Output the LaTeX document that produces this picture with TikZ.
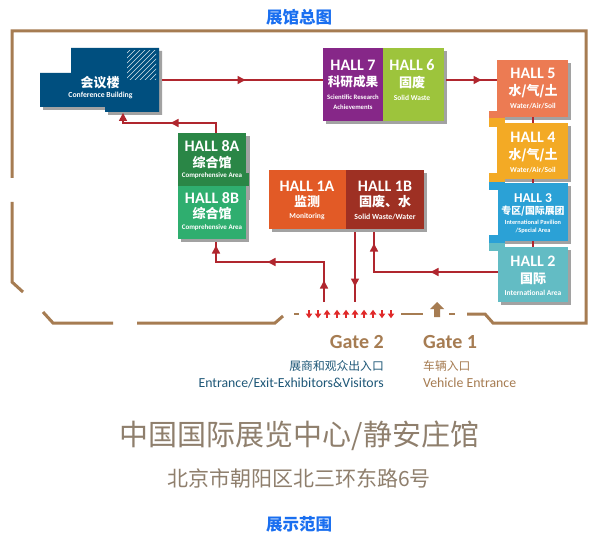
\documentclass[tikz,border=0pt]{standalone}
\usepackage{fontspec}
\setmainfont{Carlito}
\newfontfamily\cjk{Noto Sans CJK SC}
\definecolor{frameC}{HTML}{A67C52}
\definecolor{linkC}{HTML}{B0262E}
\definecolor{gateC}{HTML}{E02A2A}
\definecolor{shadowC}{HTML}{A2A2A2}
\definecolor{blueT}{HTML}{1A6FF0}
\definecolor{navyT}{HTML}{1F5878}
\definecolor{greyT}{HTML}{8F7F6D}
\definecolor{confC}{HTML}{004F7F}
\definecolor{a8C}{HTML}{2A8646}
\definecolor{b8C}{HTML}{2FAE6F}
\definecolor{h7C}{HTML}{862788}
\definecolor{h6C}{HTML}{9DC43C}
\definecolor{h5C}{HTML}{EC7B53}
\definecolor{h4C}{HTML}{F3AA25}
\definecolor{h3C}{HTML}{2BA1D6}
\definecolor{h2C}{HTML}{63BCC4}
\definecolor{aoneC}{HTML}{E25A26}
\definecolor{boneC}{HTML}{9E3023}
\tikzset{
  x=1pt,y=-1pt,
  wall/.style={draw=frameC,line width=3pt,line join=miter},
  link/.style={draw=linkC,line width=2.4pt},
  hallbox/.style={inner sep=0pt,outer sep=0pt},
  lab/.style={inner sep=0pt,text=white,font=\bfseries\fontsize{16}{16}\selectfont},
  cn/.style={inner sep=0pt,text=white,font=\cjk\bfseries\fontsize{13}{13}\selectfont},
  en/.style={inner sep=0pt,text=white,font=\bfseries\fontsize{7.5}{7.5}\selectfont},
  title/.style={inner sep=0pt,text=blueT,font=\cjk\bfseries\fontsize{16.5}{16.5}\selectfont},
}
\newcommand{\hallrect}[6]{%
  \fill[shadowC] ({#2+3},{#3+3}) rectangle ({#4+3},{#5+3});
  \node[hallbox,fill=#6,minimum width={(#4-#2)*1pt},minimum height={(#5-#3)*1pt}] (#1) at ({(#2+#4)/2},{(#3+#5)/2}) {};
}
\newcommand{\hallflat}[6]{%
  \node[hallbox,fill=#6,minimum width={(#4-#2)*1pt},minimum height={(#5-#3)*1pt}] (#1) at ({(#2+#4)/2},{(#3+#5)/2}) {};
}
\newcommand{\hd}[3]{\fill[linkC,shift={(#1,#2)},rotate=#3] (4.5,0) -- (-3.5,-4.2) -- (-3.5,4.2) -- cycle;}
\newcommand{\gt}[2]{\begin{scope}[shift={(#1,314)},rotate=#2]
  \fill[gateC] (4.2,0) -- (-0.5,-3.4) -- (-0.5,3.4) -- cycle;
  \fill[gateC] (-4,-1.4) rectangle (0,1.4);
\end{scope}}
\begin{document}
\begin{tikzpicture}
\useasboundingbox[fill=white] (0,0) rectangle (596,537);
% frame
\draw[wall] (12,178) -- (12,31) -- (586,31) -- (586,323) -- (493,323) -- (485,314) -- (467,314);
\draw[wall] (12,202) -- (12,282) -- (23,292);
\draw[wall] (43,312) -- (53,323) -- (113,323);
\draw[wall] (137,323) -- (275,323) -- (283,316);
\draw[frameC,line width=2.6pt] (294,314) -- (299,314);
\draw[frameC,line width=2.6pt] (401,314) -- (423,314);
\draw[frameC,line width=2.6pt] (449,314) -- (455,314);
% conference building
\fill[shadowC,shift={(3,3)}] (71,48) -- (159,48) -- (159,112) -- (105,112) -- (105,107) -- (40,107) -- (40,73) -- (71,73) -- cycle;
\fill[confC] (71,48) -- (159,48) -- (159,112) -- (105,112) -- (105,107) -- (40,107) -- (40,73) -- (71,73) -- cycle;
\begin{scope}
  \clip (127,51) rectangle (156,80);
  \foreach \k in {0,5,...,60}{\draw[white!85!confC,line width=.6pt] (120,{60+\k}) -- (165,{15+\k});}
\end{scope}
\node[cn] (confCn) at (100,83) {会议楼};
\node[en,font=\bfseries\fontsize{7.7}{7.7}\selectfont] (confEn) at (100.5,95.5) {Conference Building};
\coordinate (confE) at (162,80);
\coordinate (confS) at (123,115);
\coordinate (hSevenW) at (323,80);
\coordinate (hSixE) at (446,80);
\coordinate (c8a) at (216,123);
\coordinate (c8b) at (216,262);
\coordinate (c8bEnd) at (216,242);
\coordinate (g2up) at (324,302);
\coordinate (g2dn) at (355,302);
\coordinate (g2dnTop) at (355,232);
\coordinate (c1b) at (374,272);
\coordinate (c1bEnd) at (374,232);
% halls
\fill[shadowC] (181,136) rectangle (250,200);
\hallrect{hB}{178}{186}{246}{239}{b8C}
\hallflat{hA}{178}{133}{246}{186}{a8C}
\hallflat{hAt}{230}{173}{249}{186}{a8C}
\hallrect{hSeven}{323}{48}{383}{121}{h7C}
\hallrect{hSix}{383}{48}{444}{121}{h6C}
\hallrect{hFive}{497}{60}{568}{117}{h5C}
\hallflat{tFive}{489}{111}{505}{118}{h5C}
\hallflat{tFourA}{489}{118}{505}{127}{h4C}
\hallrect{hFour}{497}{123}{568}{179}{h4C}
\hallflat{tFourB}{489}{173}{505}{182}{h4C}
\hallflat{tThreeA}{489}{182}{505}{190}{h3C}
\hallrect{hThree}{498}{183}{568}{241}{h3C}
\hallflat{tThreeB}{489}{235}{505}{243}{h3C}
\hallflat{tTwo}{489}{243}{505}{251}{h2C}
\hallrect{hTwo}{498}{247}{568}{302}{h2C}
\fill[shadowC] (272,173) rectangle (427,232);
\hallflat{hOneA}{269}{170}{346}{229}{aoneC}
\hallflat{hOneB}{346}{170}{424}{229}{boneC}
% links
\draw[link] (confE) -- (hSeven.west |- confE);
\hd{241}{80}{0}
\draw[link] (hSixE) -- (hFive.west |- hSixE);
\hd{477}{80}{0}
\draw[link] (hA.north -| c8a) -- (c8a) -- (c8a -| confS) -- (confS);
\hd{175}{123}{180}
\hd{123}{117.5}{90}
\draw[link] (g2up) -- (g2up |- c8b) -- (c8b) -- (c8bEnd);
\hd{324}{285}{90}
\hd{272}{262}{180}
\hd{216}{250}{90}
\draw[link] (g2dnTop) -- (g2dn);
\hd{355}{282}{270}
\draw[link] (hTwo.west |- c1b) -- (c1b) -- (c1bEnd);
\hd{435}{272}{180}
\hd{374}{248}{90}
\draw[linkC,line width=1.6pt] (hFive.south -| 533,0) -- (hFour.north -| 533,0);
\draw[linkC,line width=1.6pt] (hFour.south -| 533,0) -- (hThree.north -| 533,0);
\draw[linkC,line width=1.6pt] (hThree.south -| 533,0) -- (hTwo.north -| 533,0);
% hall text
\node[lab] (t8a1) at (212,146) {HALL 8A};
\node[cn] (t8a2) at (212,162.5) {综合馆};
\node[en,font=\bfseries\fontsize{7}{7}\selectfont] (t8a3) at (212,176) {Comprehensive Area};
\node[lab] (t8b1) at (212,198) {HALL 8B};
\node[cn] (t8b2) at (212,214) {综合馆};
\node[en,font=\bfseries\fontsize{7}{7}\selectfont] (t8b3) at (212,228) {Comprehensive Area};
\node[lab] (t71) at (353,65) {HALL 7};
\node[cn,font=\cjk\bfseries\fontsize{12.6}{12.6}\selectfont] (t72) at (353,82) {科研成果};
\node[en,font=\bfseries\fontsize{6.7}{6.7}\selectfont] (t73) at (353,97) {Scientific Research};
\node[en,font=\bfseries\fontsize{6.7}{6.7}\selectfont] (t74) at (353,107) {Achievements};
\node[lab] (t61) at (412,65) {HALL 6};
\node[cn] (t62) at (412,83) {固废};
\node[en] (t63) at (412,98) {Solid Waste};
\node[lab] (t51) at (533,73) {HALL 5};
\node[cn] (t52) at (533,91) {水/气/土};
\node[en] (t53) at (533,106) {Water/Air/Soil};
\node[lab] (t41) at (533,137) {HALL 4};
\node[cn] (t42) at (533,155) {水/气/土};
\node[en] (t43) at (533,170) {Water/Air/Soil};
\node[lab,font=\bfseries\fontsize{13.5}{13.5}\selectfont] (t31) at (533,198) {HALL 3};
\node[cn,font=\cjk\bfseries\fontsize{9.9}{9.9}\selectfont] (t32) at (533,211) {专区/国际展团};
\node[en,font=\bfseries\fontsize{6.3}{6.3}\selectfont] (t33) at (533,222) {International Pavilion};
\node[en,font=\bfseries\fontsize{6.3}{6.3}\selectfont] (t34) at (533,231) {/Special Area};
\node[lab] (t21) at (533,261) {HALL 2};
\node[cn] (t22) at (533,279) {国际};
\node[en] (t23) at (533,293) {International Area};
\node[lab] (t1a1) at (307,186) {HALL 1A};
\node[cn] (t1a2) at (307,202) {监测};
\node[en] (t1a3) at (307,217) {Monitoring};
\node[lab] (t1b1) at (385,186) {HALL 1B};
\node[cn] (t1b2) at (385,202) {固废、水};
\node[en,font=\bfseries\fontsize{7.8}{7.8}\selectfont] (t1b3) at (385,217) {Solid Waste/Water};
% gate arrows
\gt{309}{270}\gt{318}{270}\gt{327}{90}\gt{337}{90}\gt{346}{90}\gt{355}{90}\gt{364}{90}\gt{373}{90}\gt{382}{270}\gt{391}{270}
\fill[frameC] (437,302) -- (444,309) -- (440,309) -- (440,317) -- (434,317) -- (434,309) -- (430,309) -- cycle;
% titles
\node[title] (topT) at (299,17) {展馆总图};
\node[title] (botT) at (299,524) {展示范围};
% gate text
\node[inner sep=0pt,anchor=east,text=frameC,font=\bfseries\fontsize{20}{20}\selectfont] (g2) at (384,342) {Gate 2};
\node[inner sep=0pt,anchor=west,text=frameC,font=\bfseries\fontsize{20}{20}\selectfont] (g1) at (423,342) {Gate 1};
\node[inner sep=0pt,anchor=east,text=navyT,font=\cjk\fontsize{11.8}{11.8}\selectfont] (g2c) at (384,366) {展商和观众出入口};
\node[inner sep=0pt,anchor=east,text=navyT,font=\fontsize{13.8}{13.8}\selectfont] (g2e) at (384,383) {Entrance/Exit-Exhibitors\&Visitors};
\node[inner sep=0pt,anchor=west,text=frameC,font=\cjk\fontsize{11.8}{11.8}\selectfont] (g1c) at (423,366) {车辆入口};
\node[inner sep=0pt,anchor=west,text=frameC,font=\fontsize{13.8}{13.8}\selectfont] (g1e) at (423,383) {Vehicle Entrance};
\node[inner sep=0pt,text=greyT,font=\cjk\fontsize{29}{29}\selectfont] (addr1) at (299.5,436) {中国国际展览中心/静安庄馆};
\node[inner sep=0pt,text=greyT,font=\cjk\fontsize{21}{21}\selectfont] (addr2) at (299,478) {北京市朝阳区北三环东路6号};
\end{tikzpicture}
\end{document}
